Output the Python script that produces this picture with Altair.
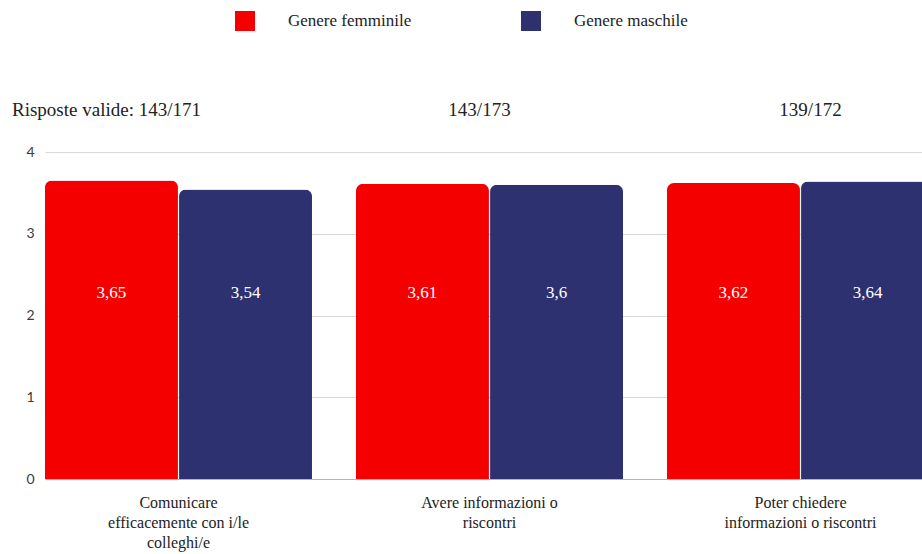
import altair as alt
import pandas as pd

categories = [
    "Comunicare\nefficacemente con i/le\ncolleghi/e",
    "Avere informazioni o\nriscontri",
    "Poter chiedere\ninformazioni o riscontri",
]
genders = ["Genere femminile", "Genere maschile"]
femminile = [3.65, 3.61, 3.62]
maschile = [3.54, 3.60, 3.64]
risposte = ["Risposte valide: 143/171", "143/173", "139/172"]
colors = ["#f40000", "#2d3170"]

rows = []
for c, f, m in zip(categories, femminile, maschile):
    rows.append({"categoria": c, "genere": genders[0], "valore": f})
    rows.append({"categoria": c, "genere": genders[1], "valore": m})
df = pd.DataFrame(rows)

SERIF = "Liberation Serif"

x_enc = alt.X(
    "categoria:N",
    sort=categories,
    scale=alt.Scale(range=[0, 889], paddingInner=0.1415, paddingOuter=0),
    axis=alt.Axis(
        title=None, labelAngle=0, ticks=False, domain=True, domainColor="#b5b5b5",
        labelPadding=15, labelFont=SERIF, labelFontSize=16, labelColor="#222222",
        labelLineHeight=20, labelExpr="split(datum.label, '\\n')", labelLimit=300,
    ),
)
xoff = alt.XOffset("genere:N", sort=genders, scale=alt.Scale(paddingInner=0.008))

base = alt.Chart(df)
bars = base.mark_bar(cornerRadiusTopLeft=7, cornerRadiusTopRight=7).encode(
    x=x_enc,
    xOffset=xoff,
    y=alt.Y(
        "valore:Q",
        scale=alt.Scale(domain=[0, 4]),
        axis=alt.Axis(
            title=None, values=[0, 1, 2, 3, 4], domain=False, ticks=False,
            labelPadding=11, labelFont="Lato", labelFontSize=14, labelColor="#3a3a3a",
            gridColor="#d9d9d9",
        ),
    ),
    color=alt.Color(
        "genere:N",
        scale=alt.Scale(domain=genders, range=colors),
        legend=alt.Legend(
            title=None, orient="none", legendX=190, legendY=-141, direction="horizontal",
            symbolType="square", symbolSize=400, symbolStrokeWidth=0, symbolOpacity=1,
            labelFont=SERIF, labelFontSize=17, labelColor="#222222", labelOffset=33,
            columnPadding=109, labelLimit=300,
        ),
    ),
)

labels = base.transform_calculate(
    lab="replace(toString(datum.valore), '.', ',')"
).mark_text(color="white", font=SERIF, fontSize=17, baseline="middle").encode(
    x=alt.X("categoria:N", sort=categories),
    xOffset=xoff,
    y=alt.value(141),
    text="lab:N",
)

annotations = []
dxs = [None, -10, 10]
for i, t in enumerate(risposte):
    sub = alt.Chart(pd.DataFrame({"categoria": [categories[i]], "testo": [t]}))
    if i == 0:
        m = sub.mark_text(font=SERIF, fontSize=19, color="#222222", baseline="middle", align="left").encode(
            x=alt.value(-33), y=alt.value(-42), text="testo:N")
    else:
        m = sub.mark_text(font=SERIF, fontSize=19, color="#222222", baseline="middle", align="center", dx=dxs[i]).encode(
            x=alt.X("categoria:N", sort=categories), y=alt.value(-42), text="testo:N")
    annotations.append(m)

chart = alt.layer(bars, labels, *annotations).properties(
    width=877,
    height=327,
    padding={"left": 45, "top": 152, "right": 0, "bottom": 75},
    autosize=alt.AutoSizeParams(type="none"),
).configure_view(stroke=None)

chart.save("out.html", embed_options={"renderer": "svg", "actions": False})
